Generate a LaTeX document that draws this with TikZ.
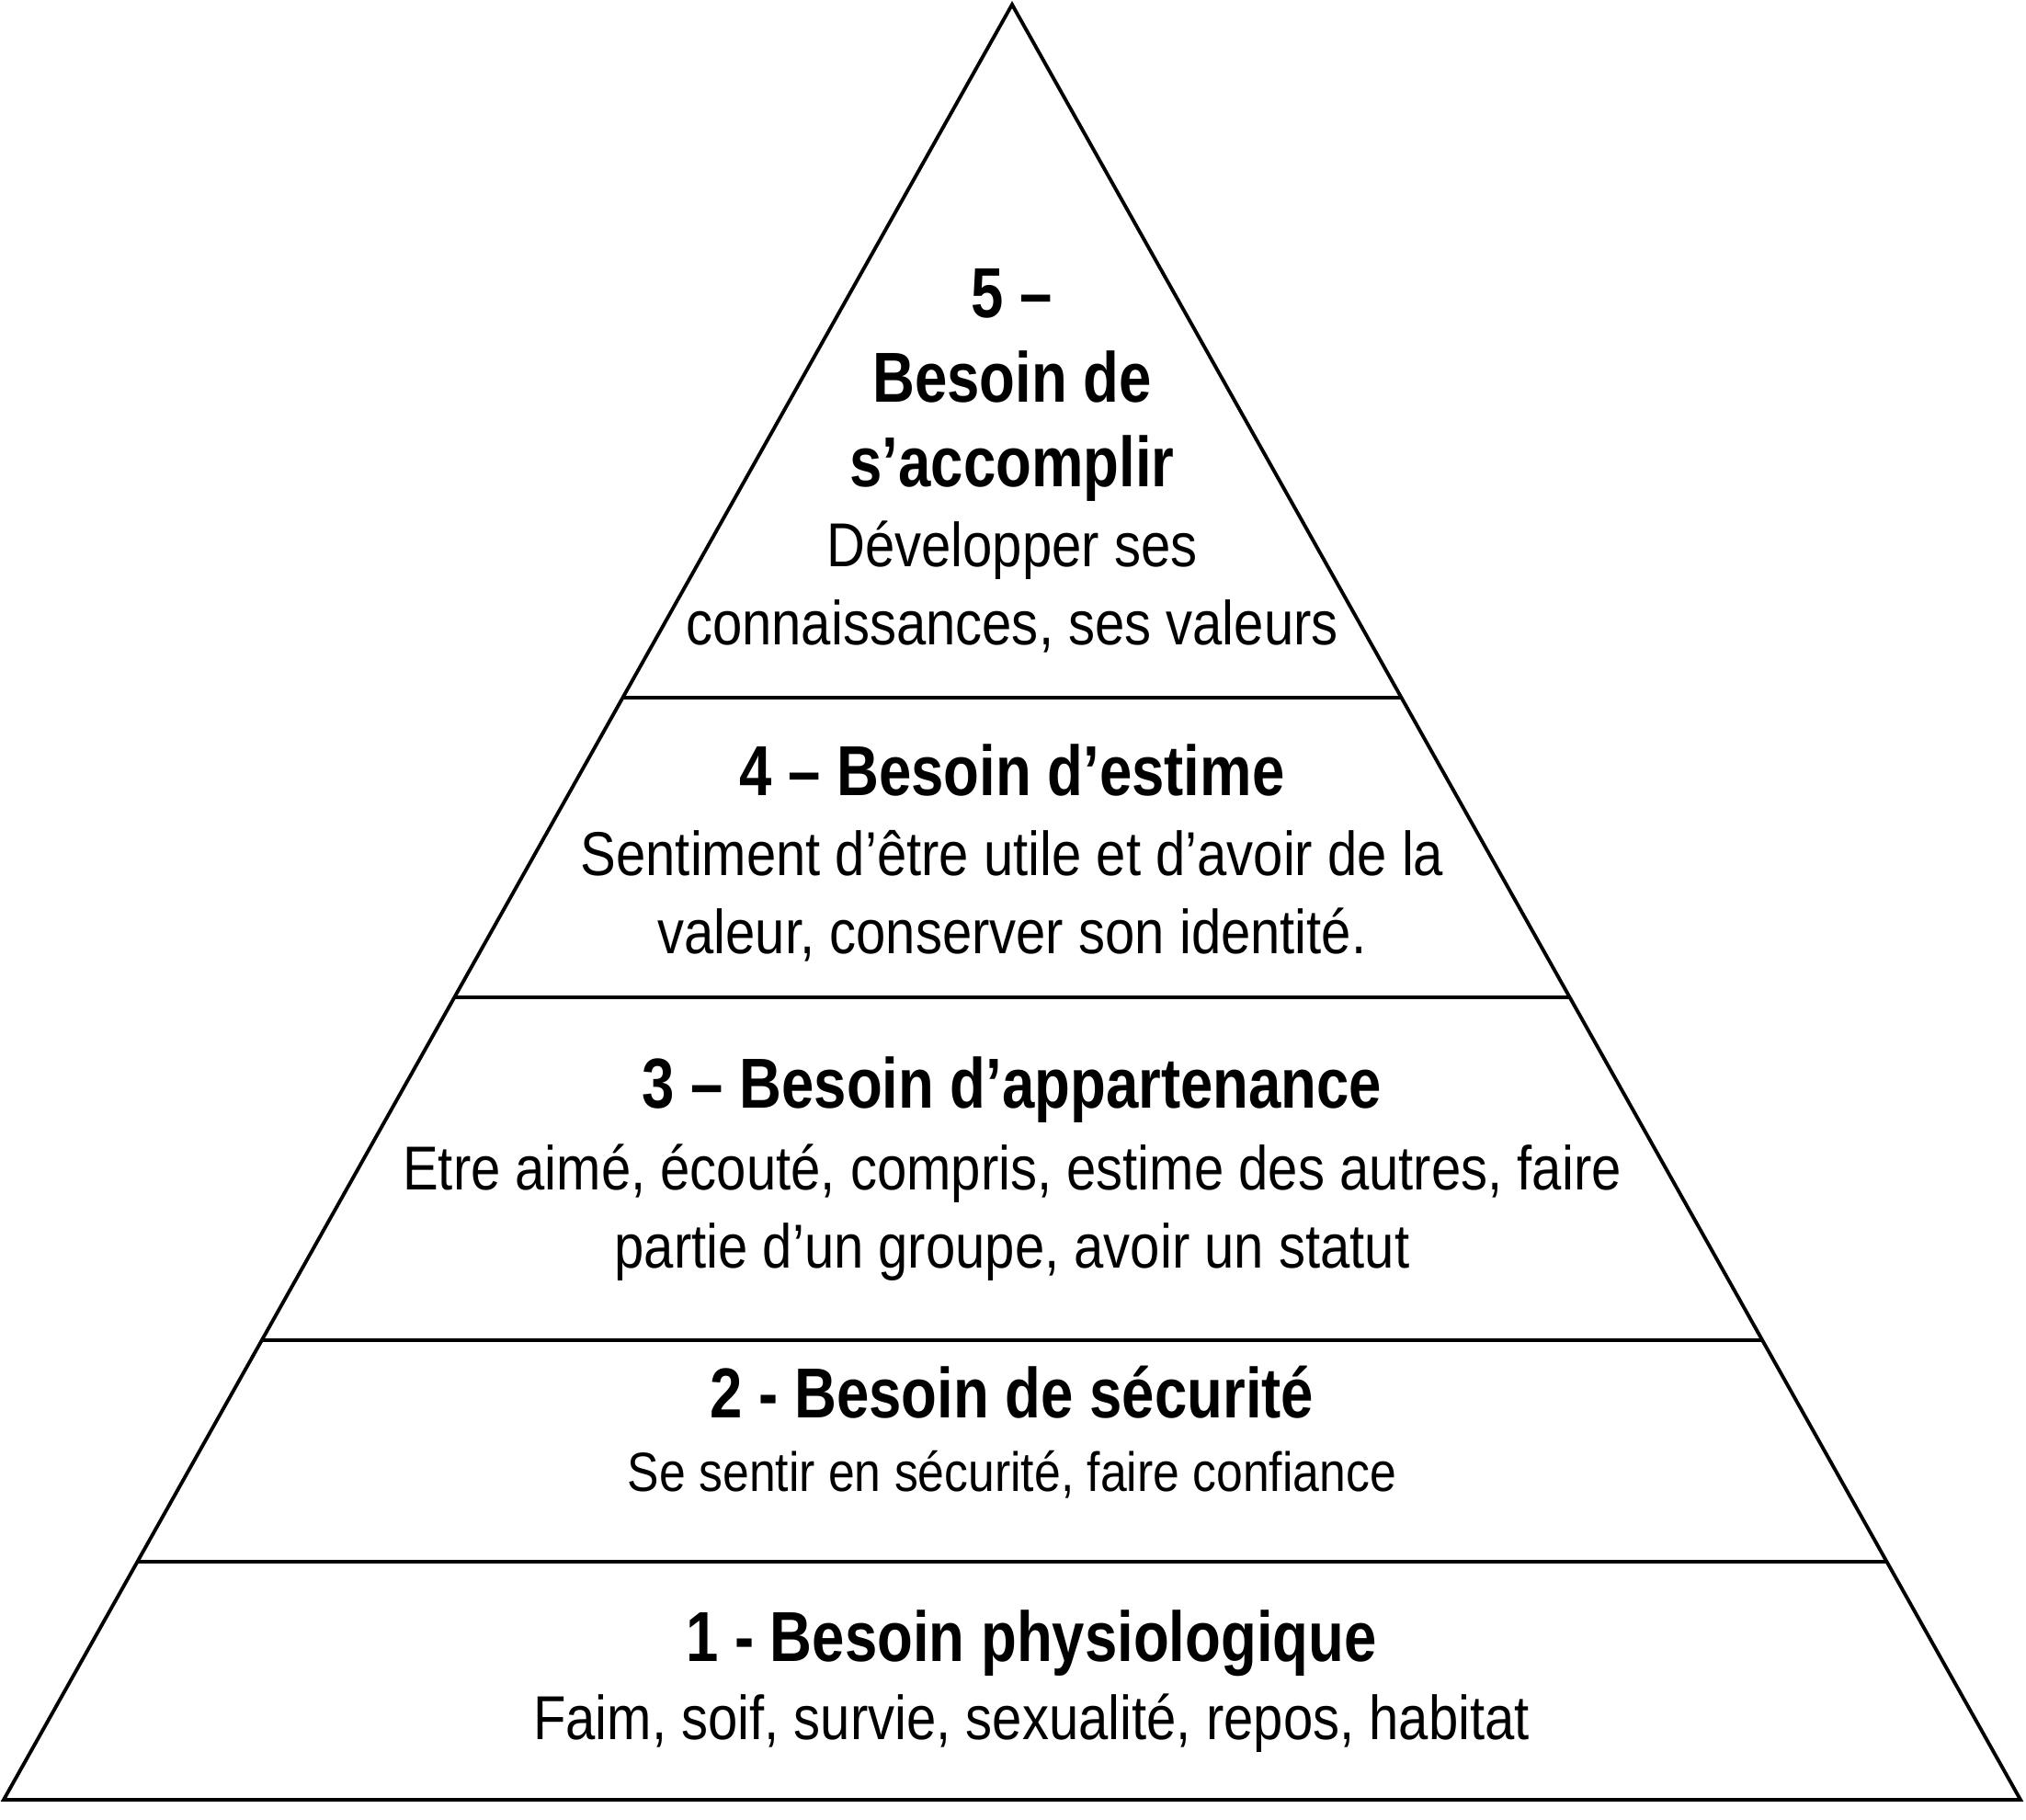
\documentclass[tikz,border=0pt]{standalone}
\usepackage{fontspec}
\setmainfont{Liberation Sans}[FakeStretch=0.86,BoldFeatures={FakeStretch=0.825}]
\usetikzlibrary{calc}

\begin{document}
\begin{tikzpicture}[
    pyr/.style={line width=1.1pt, line join=miter},
    titre/.style={anchor=base, align=center, font=\bfseries\fontsize{21.9}{26.2}\selectfont},
    desc/.style={anchor=base, align=center, font=\fontsize{19.2}{24.2}\selectfont},
  ]
  \useasboundingbox (0,0) rectangle (22.04,19.80);

  \coordinate (bl) at (0.04,0.22);
  \coordinate (br) at (21.98,0.22);
  \coordinate (apex) at (11.01,19.75);

  \draw[pyr] (apex) -- (br) -- (bl) -- cycle;
  \foreach \h in {2.81,5.22,8.95,12.21}
    \draw[pyr] ($(bl)!{(\h-0.22)/19.53}!(apex)$) -- ($(br)!{(\h-0.22)/19.53}!(apex)$);

  % niveau 5 (base = derniere ligne)
  \node[titre] (t5) at (11.01,14.50) {5 –\\Besoin de\\s’accomplir};
  \node[desc] (d5) at (11.01,12.78) {Développer ses\\connaissances, ses valeurs};

  % niveau 4
  \node[titre] (t4) at (11.01,11.14) {4 – Besoin d’estime};
  \node[desc] (d4) at (11.01,9.42) {Sentiment d’être utile et d’avoir de la\\valeur, conserver son identité.};

  % niveau 3
  \node[titre] (t3) at (11.01,7.74) {3 – Besoin d’appartenance};
  \node[desc] (d3) at (11.01,6.00) {Etre aimé, écouté, compris, estime des autres, faire\\partie d’un groupe, avoir un statut};

  % niveau 2
  \node[titre] (t2) at (11.01,4.37) {2 - Besoin de sécurité};
  \node[desc, font=\fontsize{17.1}{21}\selectfont] (d2) at (11.01,3.57) {Se sentir en sécurité, faire confiance};

  % niveau 1
  \node[titre] (t1) at (11.22,1.72) {1 - Besoin physiologique};
  \node[desc] (d1) at (11.22,0.87) {Faim, soif, survie, sexualité, repos, habitat};
\end{tikzpicture}
\end{document}
